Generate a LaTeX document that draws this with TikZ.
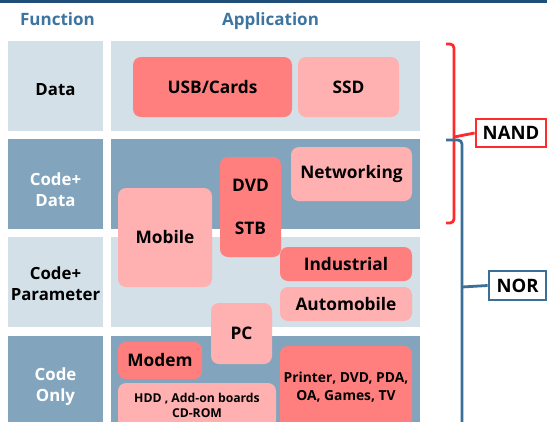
\documentclass[tikz,border=0pt]{standalone}
\usepackage{fontspec}
\setmainfont{Open Sans}
\definecolor{topbar}{HTML}{1F4E79}
\definecolor{headc}{HTML}{3D74A0}
\definecolor{lightcell}{HTML}{D3E0E8}
\definecolor{darkcell}{HTML}{82A5BD}
\definecolor{salmon}{HTML}{FF7F7F}
\definecolor{pinkb}{HTML}{FFB0B0}
\definecolor{nandred}{HTML}{FF2A2A}
\definecolor{norblue}{HTML}{3B6F98}
\begin{document}
\begin{tikzpicture}[x=1pt,y=-1pt,
  cell/.style={draw=none,inner sep=0pt,outer sep=0pt},
  lcell/.style={cell,fill=lightcell},
  dcell/.style={cell,fill=darkcell},
  lab/.style={font=\bfseries\fontsize{16.8}{21}\selectfont,align=center,inner sep=0pt},
  wlab/.style={lab,text=white},
  head/.style={font=\bfseries\fontsize{17}{20}\selectfont,text=headc,inner sep=0pt},
  app/.style={rounded corners=8pt,inner sep=0pt,align=center,font=\bfseries\fontsize{17.3}{19}\selectfont},
  sapp/.style={app,fill=salmon},
  papp/.style={app,fill=pinkb},
  tagbox/.style={draw,line width=2.8pt,fill=white,inner sep=0pt,font=\bfseries\fontsize{18.5}{20}\selectfont}
]
\useasboundingbox (0,0) rectangle (547,421);
\clip (0,0) rectangle (547,421);
\fill[white] (0,0) rectangle (547,421);
\fill[topbar] (0,0) rectangle (547,3);

% headers
\node[head,anchor=base] (hfun) at (57.5,25) {Function};
\node[head,anchor=base] (happ) at (270.5,25) {Application};

% grid cells
\node[lcell,minimum width=95pt,minimum height=90pt] (f1) at (55.5,86) {};
\node[lcell,minimum width=309pt,minimum height=90pt] (a1) at (265.5,86) {};
\node[dcell,minimum width=95pt,minimum height=90pt] (f2) at (55.5,184) {};
\node[dcell,minimum width=309pt,minimum height=90pt] (a2) at (265.5,184) {};
\node[lcell,minimum width=95pt,minimum height=90pt] (f3) at (55.5,282) {};
\node[lcell,minimum width=309pt,minimum height=90pt] (a3) at (265.5,282) {};
\node[dcell,minimum width=95pt,minimum height=94pt] (f4) at (55.5,383) {};
\node[dcell,minimum width=309pt,minimum height=94pt] (a4) at (265.5,383) {};

% function labels
\node[lab] (l1) at (55.5,90) {Data};
\node[wlab] (l2) at (55.5,189.5) {Code+\\Data};
\node[lab] (l3) at (55.5,284) {Code+\\Parameter};
\node[wlab] (l4) at (55.5,386.5) {Code\\Only};

% application boxes
\node[sapp,minimum width=159pt,minimum height=60pt] (usb) at (212.5,87) {USB/Cards};
\node[papp,minimum width=101pt,minimum height=60pt] (ssd) at (348.5,87) {SSD};
\node[papp,minimum width=121pt,minimum height=54pt] (net) at (351.5,174) {Networking};
\node[papp,minimum width=94pt,minimum height=99pt] (mob) at (165,237.5) {Mobile};
\node[sapp,minimum width=61pt,minimum height=100pt] (dvd) at (250.5,207) {DVD\\[24pt]STB};
\node[sapp,minimum width=132pt,minimum height=34pt] (ind) at (346,264) {Industrial};
\node[papp,minimum width=132pt,minimum height=34pt] (aut) at (346,304) {Automobile};
\node[papp,minimum width=61pt,minimum height=61pt] (pc) at (241.5,333.5) {PC};
\node[sapp,minimum width=84pt,minimum height=37pt] (mod) at (160,360.5) {Modem};
\node[papp,minimum width=158pt,minimum height=45pt,font=\bfseries\fontsize{12.2}{15.5}\selectfont] (hdd) at (197,405.5) {HDD , Add-on boards\\CD-ROM};
\node[sapp,minimum width=132pt,minimum height=82pt,font=\bfseries\fontsize{13.8}{18}\selectfont] (prn) at (346,387) {Printer, DVD, PDA,\\OA, Games, TV};

% tags
\node[tagbox,draw=nandred,minimum width=70pt,minimum height=28pt] (nand) at (511,133) {NAND};
\node[tagbox,draw=norblue,minimum width=57pt,minimum height=29pt] (nor) at (517.5,285.5) {NOR};

% brackets
\coordinate (rt) at (446,44);
\coordinate (rb) at (446,223);
\coordinate (rm) at (454,137);
\draw[nandred,line width=2.8pt,rounded corners=4pt] (rt) -- (454,44) -- (454,223) -- (rb);
\draw[nandred,line width=2.8pt] (rm) -- (nand.west);
\coordinate (bt) at (446,140);
\coordinate (bb) at (462,430);
\coordinate (bm) at (462,287);
\draw[norblue,line width=2.8pt,rounded corners=4pt] (bt) -- (462,140) -- (bb);
\draw[norblue,line width=2.8pt] (bm) -- (nor.west);
\end{tikzpicture}
\end{document}
